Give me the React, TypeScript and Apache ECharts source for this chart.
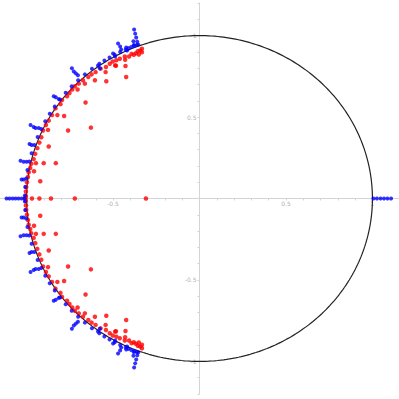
import React, { useEffect, useRef } from 'react';
import * as echarts from 'echarts';

// Blue points (outside / on the unit circle), upper half
const blueUpper: [number, number][] = [
  [-0.362, 0.943], [-0.378, 0.936], [-0.395, 0.930], [-0.411, 0.923], [-0.427, 0.915],
  [-0.459, 0.900], [-0.490, 0.883], [-0.520, 0.866], [-0.550, 0.847], [-0.579, 0.827],
  [-0.622, 0.796], [-0.663, 0.762], [-0.702, 0.726], [-0.739, 0.689], [-0.774, 0.649],
  [-0.807, 0.608], [-0.837, 0.565], [-0.866, 0.520], [-0.892, 0.474], [-0.915, 0.427],
  [-0.936, 0.378], [-0.955, 0.329], [-0.971, 0.278], [-0.984, 0.227], [-0.995, 0.175],
  [-1.002, 0.123], [-1.008, 0.071], [-1.010, 0.018],
  [-0.378, 1.037], [-0.372, 1.012], [-0.366, 0.988], [-0.360, 0.963], [-0.355, 0.945],
  [-0.382, 0.965], [-0.380, 0.943],
  [-0.471, 0.951], [-0.459, 0.933], [-0.453, 0.915], [-0.424, 0.927], [-0.419, 0.909],
  [-0.500, 0.890], [-0.488, 0.872],
  [-0.587, 0.817], [-0.576, 0.799],
  [-0.738, 0.799], [-0.727, 0.780], [-0.715, 0.768], [-0.703, 0.756],
  [-0.843, 0.628], [-0.831, 0.622], [-0.814, 0.610],
  [-0.977, 0.451], [-0.959, 0.439], [-0.948, 0.433], [-0.930, 0.433],
  [-0.983, 0.335], [-0.971, 0.329],
  [-1.035, 0.232], [-1.017, 0.226], [-1.000, 0.226],
  [-1.029, 0.116], [-1.017, 0.116],
];

// Blue points, lower half
const blueLower: [number, number][] = [
  [-0.362, -0.943], [-0.378, -0.936], [-0.395, -0.930], [-0.411, -0.923], [-0.427, -0.915],
  [-0.459, -0.900], [-0.490, -0.883], [-0.520, -0.866], [-0.550, -0.847], [-0.579, -0.827],
  [-0.622, -0.796], [-0.663, -0.762], [-0.702, -0.726], [-0.739, -0.689], [-0.774, -0.649],
  [-0.807, -0.608], [-0.837, -0.565], [-0.866, -0.520], [-0.892, -0.474], [-0.915, -0.427],
  [-0.936, -0.378], [-0.955, -0.329], [-0.971, -0.278], [-0.984, -0.227], [-0.995, -0.175],
  [-1.002, -0.123], [-1.008, -0.071], [-1.010, -0.018],
  [-0.378, -1.037], [-0.372, -1.012], [-0.366, -0.988], [-0.360, -0.963], [-0.355, -0.945],
  [-0.382, -0.965], [-0.380, -0.943],
  [-0.471, -0.951], [-0.459, -0.933], [-0.453, -0.915], [-0.424, -0.927], [-0.419, -0.909],
  [-0.500, -0.890], [-0.488, -0.872],
  [-0.587, -0.817], [-0.576, -0.799],
  [-0.738, -0.799], [-0.727, -0.780], [-0.715, -0.768], [-0.703, -0.756],
  [-0.843, -0.628], [-0.831, -0.622], [-0.814, -0.610],
  [-0.977, -0.451], [-0.959, -0.439], [-0.948, -0.433], [-0.930, -0.433],
  [-0.983, -0.335], [-0.971, -0.329],
  [-1.035, -0.232], [-1.017, -0.226], [-1.000, -0.226],
  [-1.029, -0.116], [-1.017, -0.116],
];

// Blue points on the real axis
const blueAxis: [number, number][] = [
  [-1.116, 0], [-1.099, 0], [-1.081, 0], [-1.064, 0], [-1.047, 0], [-1.029, 0], [-1.012, 0],
  [1.006, 0], [1.026, 0], [1.047, 0], [1.067, 0], [1.087, 0], [1.108, 0],
];

// Red points (inside the unit circle), upper half
const redUpper: [number, number][] = [
  [-0.333, 0.919], [-0.333, 0.898], [-0.343, 0.909], [-0.351, 0.884], [-0.357, 0.904],
  [-0.368, 0.892], [-0.380, 0.882], [-0.393, 0.888], [-0.407, 0.872], [-0.432, 0.872],
  [-0.430, 0.852], [-0.461, 0.858], [-0.481, 0.848], [-0.488, 0.817], [-0.502, 0.841],
  [-0.519, 0.827], [-0.541, 0.807], [-0.543, 0.776], [-0.572, 0.797], [-0.601, 0.776],
  [-0.605, 0.726], [-0.624, 0.762], [-0.643, 0.746], [-0.663, 0.705], [-0.674, 0.726],
  [-0.698, 0.705], [-0.705, 0.669], [-0.721, 0.689], [-0.736, 0.669], [-0.752, 0.648],
  [-0.766, 0.628], [-0.795, 0.604], [-0.804, 0.579], [-0.822, 0.512], [-0.833, 0.553],
  [-0.853, 0.512], [-0.872, 0.478], [-0.876, 0.421], [-0.888, 0.451], [-0.905, 0.417],
  [-0.915, 0.376], [-0.926, 0.343], [-0.872, 0.319], [-0.938, 0.309], [-0.950, 0.274],
  [-0.959, 0.242], [-0.946, 0.217], [-0.973, 0.213], [-0.979, 0.187], [-0.988, 0.161],
  [-0.957, 0.167], [-0.992, 0.132], [-0.921, 0.106], [-0.998, 0.100], [-1.002, 0.071],
  [-1.004, 0.043], [-1.004, 0.014],
  [-0.424, 0.746], [-0.539, 0.720], [-0.428, 0.813], [-0.483, 0.815], [-0.659, 0.589],
  [-0.760, 0.417], [-0.628, 0.435], [-0.831, 0.217], [-0.901, 0.217], [-0.783, 0.506],
];

// Red points, lower half
const redLower: [number, number][] = [
  [-0.333, -0.919], [-0.333, -0.898], [-0.343, -0.909], [-0.351, -0.884], [-0.357, -0.904],
  [-0.368, -0.892], [-0.380, -0.882], [-0.393, -0.888], [-0.407, -0.872], [-0.432, -0.872],
  [-0.430, -0.852], [-0.461, -0.858], [-0.481, -0.848], [-0.488, -0.817], [-0.502, -0.841],
  [-0.519, -0.827], [-0.541, -0.807], [-0.543, -0.776], [-0.572, -0.797], [-0.601, -0.776],
  [-0.605, -0.726], [-0.624, -0.762], [-0.643, -0.746], [-0.663, -0.705], [-0.674, -0.726],
  [-0.698, -0.705], [-0.705, -0.669], [-0.721, -0.689], [-0.736, -0.669], [-0.752, -0.648],
  [-0.766, -0.628], [-0.795, -0.604], [-0.804, -0.579], [-0.822, -0.512], [-0.833, -0.553],
  [-0.853, -0.512], [-0.872, -0.478], [-0.876, -0.421], [-0.888, -0.451], [-0.905, -0.417],
  [-0.915, -0.376], [-0.926, -0.343], [-0.872, -0.319], [-0.938, -0.309], [-0.950, -0.274],
  [-0.959, -0.242], [-0.946, -0.217], [-0.973, -0.213], [-0.979, -0.187], [-0.988, -0.161],
  [-0.957, -0.167], [-0.992, -0.132], [-0.921, -0.106], [-0.998, -0.100], [-1.002, -0.071],
  [-1.004, -0.043], [-1.004, -0.014],
  [-0.424, -0.746], [-0.539, -0.720], [-0.428, -0.813], [-0.483, -0.815], [-0.659, -0.589],
  [-0.760, -0.417], [-0.628, -0.435], [-0.831, -0.217], [-0.901, -0.217], [-0.783, -0.506],
];

// Red points on the real axis
const redAxis: [number, number][] = [
  [-1.008, 0], [-0.969, 0], [-0.926, 0], [-0.859, 0], [-0.721, 0], [-0.310, 0],
];

// Labelled tick values
const xTickLabels = [-1, -0.5, 0.5, 1];
const yTickLabels = [-1, -0.5, 0.5, 1];

function unitCircle(): [number, number][] {
  const pts: [number, number][] = [];
  for (let i = 0; i <= 360; i++) {
    const t = (i * Math.PI) / 180;
    pts.push([Math.cos(t), Math.sin(t)]);
  }
  return pts;
}

function axis(): any {
  return {
    type: 'value',
    min: -1.2,
    max: 1.2,
    interval: 0.1,
    axisLine: { onZero: true, lineStyle: { color: '#d4d4d4', width: 1 } },
    axisTick: { show: true, length: 2, lineStyle: { color: '#d4d4d4' } },
    axisLabel: { show: false },
    splitLine: { show: false },
  };
}

const labelStyle = { fontSize: 6, color: '#999999', fontFamily: 'DejaVu Sans' };

export default function App() {
  const ref = useRef<HTMLDivElement>(null);
  useEffect(() => {
    if (!ref.current) return;
    const chart = echarts.init(ref.current, undefined, { renderer: 'svg' });
    chart.setOption({
      animation: false,
      backgroundColor: '#ffffff',
      grid: { left: -8, right: -8, top: 3, bottom: 5, containLabel: false, outerBoundsMode: 'none' },
      xAxis: axis(),
      yAxis: axis(),
      series: [
        {
          type: 'line',
          data: unitCircle(),
          showSymbol: false,
          silent: true,
          lineStyle: { color: '#222', width: 1.2 },
          z: 1,
        },
        {
          type: 'scatter',
          silent: true,
          symbolSize: 0,
          data: xTickLabels.map((v) => [v, 0]),
          label: {
            show: true,
            position: 'bottom',
            distance: 2,
            formatter: (p: any) => String(p.value[0]),
            ...labelStyle,
          },
          z: 0,
        },
        {
          type: 'scatter',
          silent: true,
          symbolSize: 0,
          data: yTickLabels.map((v) => [0, v]),
          label: {
            show: true,
            position: 'left',
            distance: 3,
            formatter: (p: any) => String(p.value[1]),
            ...labelStyle,
          },
          z: 0,
        },
        {
          type: 'scatter',
          data: [...redUpper, ...redLower, ...redAxis],
          symbolSize: 4.5,
          itemStyle: { color: '#ff0000' },
          z: 2,
        },
        {
          type: 'scatter',
          data: [...blueUpper, ...blueLower, ...blueAxis],
          symbolSize: 4,
          itemStyle: { color: '#0000ff' },
          z: 3,
        },
      ],
    });
    return () => chart.dispose();
  }, []);
  return (
    <div
      ref={ref}
      style={{ position: 'fixed', left: 0, top: 0, width: 399, height: 399, background: '#fff' }}
    />
  );
}
